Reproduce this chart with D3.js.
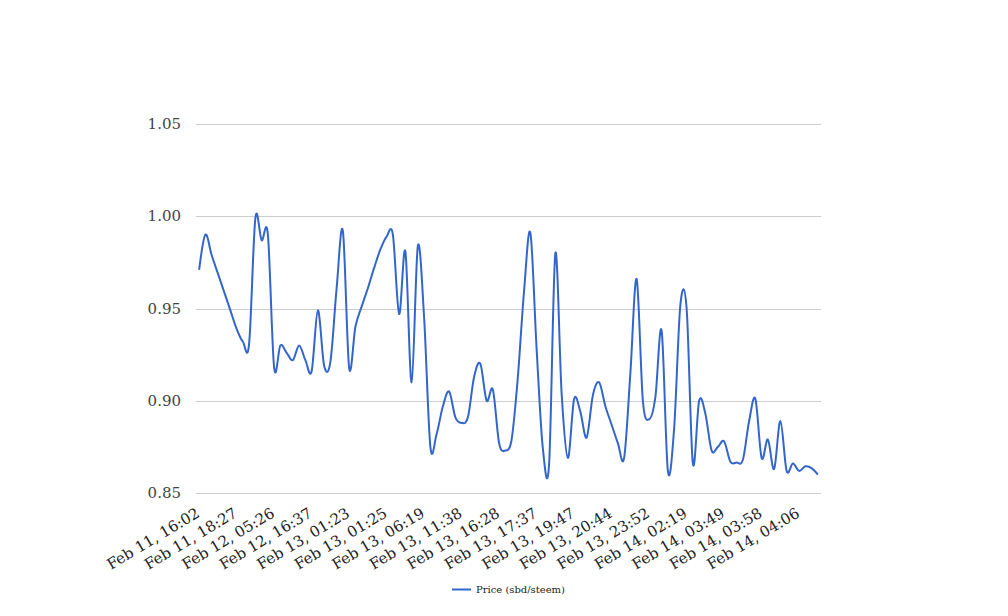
<!DOCTYPE html>
<html>
<head>
<meta charset="utf-8">
<script src="https://cdn.jsdelivr.net/npm/d3@7"></script>
<style>
  html, body { margin: 0; padding: 0; background: #fff; }
  svg { display: block; }
</style>
</head>
<body>
<svg id="chart" width="1008" height="616"></svg>
<script>
const seriesName = "Price (sbd/steem)";
const prices = [
  0.971, 0.990, 0.979, 0.969, 0.959, 0.949, 0.939, 0.932, 0.931, 0.999,
  0.987, 0.990, 0.918, 0.930, 0.926, 0.922, 0.930, 0.922, 0.916, 0.949,
  0.919, 0.921, 0.961, 0.992, 0.918, 0.940, 0.951, 0.961, 0.972, 0.982,
  0.989, 0.990, 0.947, 0.981, 0.910, 0.984, 0.945, 0.875, 0.882, 0.897,
  0.905, 0.891, 0.888, 0.891, 0.913, 0.920, 0.900, 0.906, 0.877, 0.873,
  0.879, 0.913, 0.960, 0.991, 0.928, 0.874, 0.866, 0.980, 0.904, 0.869,
  0.901, 0.894, 0.880, 0.903, 0.910, 0.897, 0.887, 0.877, 0.869, 0.915,
  0.966, 0.900, 0.890, 0.902, 0.938, 0.862, 0.885, 0.952, 0.950, 0.866,
  0.900, 0.893, 0.873, 0.875, 0.878, 0.867, 0.8665, 0.868, 0.889, 0.901,
  0.869, 0.879, 0.863, 0.889, 0.862, 0.866, 0.862, 0.8645, 0.8635, 0.860
];
const tickLabels = [
  "Feb 11, 16:02", "Feb 11, 18:27", "Feb 12, 05:26", "Feb 12, 16:37",
  "Feb 13, 01:23", "Feb 13, 01:25", "Feb 13, 06:19", "Feb 13, 11:38",
  "Feb 13, 16:28", "Feb 13, 17:37", "Feb 13, 19:47", "Feb 13, 20:44",
  "Feb 13, 23:52", "Feb 14, 02:19", "Feb 14, 03:49", "Feb 14, 03:58",
  "Feb 14, 04:06"
];
const tickStep = 6;
const yTicks = [0.85, 0.90, 0.95, 1.00, 1.05];

const svg = d3.select("#chart");
const m = { left: 196, right: 821, top: 124, bottom: 493 };
const font = "'DejaVu Serif', serif";

const x = d3.scaleBand().domain(d3.range(prices.length)).range([m.left, m.right]);
const xc = i => x(i) + x.bandwidth() / 2;
const y = d3.scaleLinear().domain([0.85, 1.05]).range([m.bottom, m.top]);

// gridlines
svg.append("g").selectAll("line").data(yTicks).join("line")
  .attr("x1", m.left).attr("x2", m.right)
  .attr("y1", d => Math.round(y(d)) + 0.5).attr("y2", d => Math.round(y(d)) + 0.5)
  .attr("stroke", "#cccccc").attr("stroke-width", 1);

// y labels
svg.append("g").selectAll("text").data(yTicks).join("text")
  .attr("x", 181).attr("y", d => y(d) + 5)
  .attr("text-anchor", "end")
  .attr("font-family", font).attr("font-size", 15).attr("fill", "#444444")
  .text(d => d.toFixed(2));

// x labels
const tickIdx = tickLabels.map((_, k) => k * tickStep);
svg.append("g").selectAll("text").data(tickLabels).join("text")
  .attr("transform", (d, k) => `translate(${xc(tickIdx[k]) + 1.5},516) rotate(-31)`)
  .attr("text-anchor", "end")
  .attr("font-family", font).attr("font-size", 15).attr("fill", "#222222")
  .text(d => d);

// line
const line = d3.line()
  .x((d, i) => xc(i))
  .y(d => y(d))
  .curve(d3.curveCatmullRom.alpha(0));
svg.append("path").datum(prices)
  .attr("d", line)
  .attr("fill", "none")
  .attr("stroke", "#3366cc")
  .attr("stroke-width", 2)
  .attr("stroke-linejoin", "round");

// legend
const lg = svg.append("g");
lg.append("line").attr("x1", 452).attr("x2", 471).attr("y1", 589.5).attr("y2", 589.5)
  .attr("stroke", "#3366cc").attr("stroke-width", 2);
lg.append("text").attr("x", 476).attr("y", 593)
  .attr("font-family", font).attr("font-size", 10).attr("fill", "#222222")
  .text(seriesName);
</script>
</body>
</html>
